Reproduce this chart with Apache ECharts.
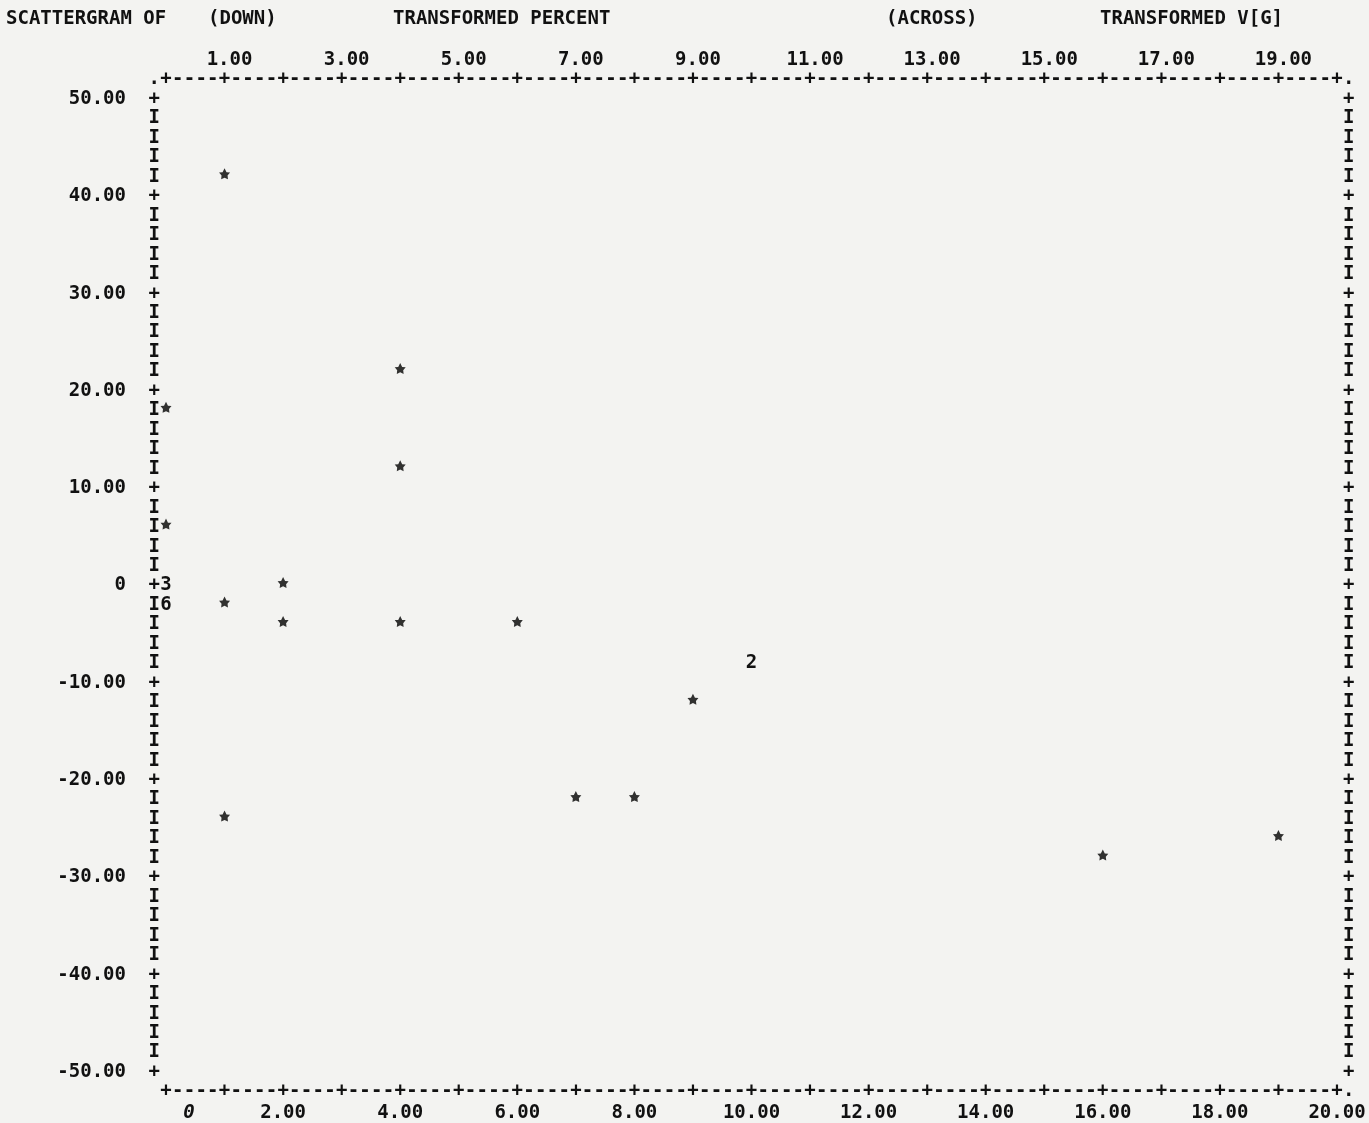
<!DOCTYPE html>
<html>
<head>
<meta charset="utf-8">
<script src="https://cdn.jsdelivr.net/npm/echarts@6/dist/echarts.min.js"></script>
<style>
  html, body { margin: 0; padding: 0; background: #f3f3f1; }
  #chart { width: 1369px; height: 1123px; }
</style>
</head>
<body>
<div id="chart"></div>
<script>
// ---- data (ACROSS = transformed V(G), DOWN = transformed percent)
const pointX = [0, 0, 0, 0, 1, 1, 1, 2, 2, 4, 4, 4, 6, 7, 8, 9, 10, 16, 19];
const pointY = [18, 6, 0, -2, 42, -2, -24, 0, -4, 22, 12, -4, -4, -22, -22, -12, -8, -28, -26];
const pointCount = [1, 1, 3, 6, 1, 1, 1, 1, 1, 1, 1, 1, 1, 1, 1, 1, 2, 1, 1];

// ---- axis ticks / labels
const yTicks = [50, 40, 30, 20, 10, 0, -10, -20, -30, -40, -50];
const bottomTicks = [0, 2, 4, 6, 8, 10, 12, 14, 16, 18, 20];
const topTicks = [1, 3, 5, 7, 9, 11, 13, 15, 17, 19];

const titleParts = [
  { text: 'SCATTERGRAM OF', x: 6 },
  { text: '(DOWN)', x: 208 },
  { text: 'TRANSFORMED PERCENT', x: 393 },
  { text: '(ACROSS)', x: 886 },
  { text: 'TRANSFORMED V[G]', x: 1100 }
];

const FONT = 'bold 19px "DejaVu Sans Mono"';
const INK = '#111111';
const textStyleBase = { fontFamily: 'DejaVu Sans Mono', fontWeight: 'bold', fontSize: 19, color: INK };

// printer character grid: one column = 0.2 across units, one row = 2 down units
const COL = 0.2, ROW = 2;
const xMin = bottomTicks[0], xMax = bottomTicks[bottomTicks.length - 1];
const yMax = yTicks[0], yMin = yTicks[yTicks.length - 1];

// frame characters (border of the printed plot)
const frame = [];
const frameChars = [];
function addChar(x, y, c) { frame.push([x, y]); frameChars.push(c); }
const nCols = Math.round((xMax - xMin) / COL);
for (let k = 0; k <= nCols; k++) {
  const x = xMin + k * COL;
  const c = (k % 5 === 0) ? '+' : '-';
  addChar(x, yMax + ROW, c);
  addChar(x, yMin - ROW, c);
}
const nRows = Math.round((yMax - yMin) / ROW);
for (let k = 0; k <= nRows; k++) {
  const y = yMax - k * ROW;
  const c = (Math.abs(y % 10) < 1e-9) ? '+' : 'I';
  addChar(xMin - COL, y, c);
  addChar(xMax + COL, y, c);
}
addChar(xMin - COL, yMax + ROW, '.');
addChar(xMax + COL, yMax + ROW, '.');
addChar(xMax + COL, yMin - ROW, '.');

const STAR = 'path://M0,-10 L3.4,-3.4 L9.5,-3.1 L5.2,1.9 L5.9,8.1 L0,5.4 L-5.9,8.1 L-5.2,1.9 L-9.5,-3.1 L-3.4,-3.4 Z';

const singles = [];
const multiples = [];
pointX.forEach((x, i) => {
  if (pointCount[i] > 1) multiples.push([x, pointY[i], pointCount[i]]);
  else singles.push([x, pointY[i]]);
});

const chart = echarts.init(document.getElementById('chart'), null, { renderer: 'canvas' });
chart.setOption({
  backgroundColor: '#f3f3f1',
  animation: false,
  graphic: titleParts.map(t => ({
    type: 'text',
    left: t.x,
    top: 10,
    style: { text: t.text, font: FONT, fill: INK }
  })),
  grid: { left: 166, right: 32, top: 99, bottom: 50, containLabel: false },
  xAxis: [
    {
      type: 'value', position: 'bottom', min: xMin, max: xMax, interval: 2,
      axisLine: { show: false }, axisTick: { show: false }, splitLine: { show: false },
      axisLabel: {
        margin: 32, interval: 0,
        ...textStyleBase,
        formatter: v => bottomTicks.includes(v) ? (v === 0 ? '{z|0}' : v.toFixed(2)) : '',
        rich: { z: { ...textStyleBase, fontStyle: 'italic', padding: [0, 0, 0, 46] } }
      }
    },
    {
      type: 'value', position: 'top', min: xMin, max: xMax, interval: 1,
      axisLine: { show: false }, axisTick: { show: false }, splitLine: { show: false },
      axisLabel: {
        margin: 29, interval: 0, padding: [0, 0, 0, 10],
        ...textStyleBase,
        formatter: v => topTicks.includes(v) ? v.toFixed(2) : ''
      }
    }
  ],
  yAxis: {
    type: 'value', min: yMin, max: yMax, interval: 10,
    axisLine: { show: false }, axisTick: { show: false }, splitLine: { show: false },
    axisLabel: {
      margin: 40,
      ...textStyleBase,
      formatter: v => yTicks.includes(v) ? (v === 0 ? '0' : v.toFixed(2)) : ''
    }
  },
  series: [
    {
      type: 'custom',
      name: 'frame',
      xAxisIndex: 0,
      clip: false,
      silent: true,
      data: frame,
      renderItem: (params, api) => {
        const p = api.coord([api.value(0), api.value(1)]);
        return {
          type: 'text',
          x: p[0], y: p[1],
          style: {
            text: frameChars[params.dataIndex],
            font: FONT, fill: INK,
            align: 'center', verticalAlign: 'middle'
          }
        };
      }
    },
    {
      type: 'scatter',
      name: 'single cases',
      xAxisIndex: 0,
      symbol: STAR,
      symbolSize: 11,
      symbolOffset: [0, -3],
      itemStyle: { color: '#000' },
      clip: false,
      data: singles
    },
    {
      type: 'custom',
      name: 'multiple cases',
      xAxisIndex: 0,
      clip: false,
      data: multiples,
      renderItem: (params, api) => {
        const p = api.coord([api.value(0), api.value(1)]);
        return {
          type: 'text',
          x: p[0], y: p[1],
          style: {
            text: String(api.value(2)),
            font: FONT, fill: INK,
            align: 'center', verticalAlign: 'middle'
          }
        };
      }
    }
  ]
});
</script>
</body>
</html>
